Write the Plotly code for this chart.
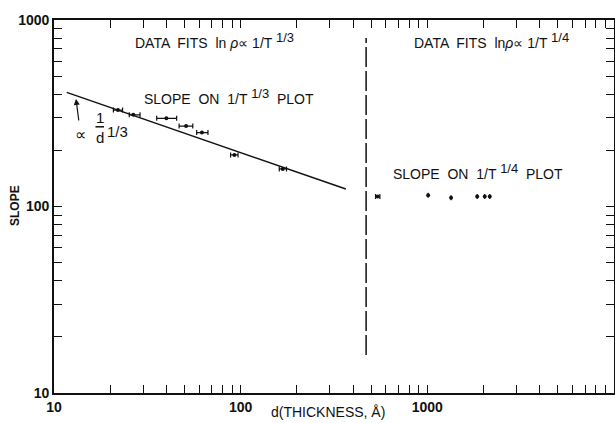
import plotly.graph_objects as go

# ---- data ----
thin_d = [22, 26.6, 40, 51, 62, 92.5, 168]
thin_d_lo = [20.8, 25.3, 35.5, 46.8, 58.1, 88.3, 161]
thin_d_hi = [23.3, 28.9, 45.4, 55.4, 66.8, 96.8, 176]
thin_slope = [329, 310, 297, 270, 249, 189, 159]

thick_d = [542, 1010, 1340, 1850, 2030, 2160]
thick_d_lo = [528, 1010, 1340, 1850, 2030, 2160]
thick_d_hi = [557, 1010, 1340, 1850, 2030, 2160]
thick_slope = [113, 115, 111.5, 113, 113, 113]

fit_d = [11.7, 366]
fit_slope = [409, 124]

boundary_d = [470, 470]
boundary_slope = [16, 800]

x_tickvals = [10, 100, 1000]
x_ticktext = ["10", "100", "1000"]
y_tickvals = [10, 100, 1000]
y_ticktext = ["10", "100", "1000"]

FONT = "Liberation Sans, Arial, sans-serif"
BLACK = "#111111"

fig = go.Figure()

fig.add_trace(go.Scatter(x=fit_d, y=fit_slope, mode="lines",
                         line=dict(color=BLACK, width=1.5), showlegend=False))

fig.add_trace(go.Scatter(x=boundary_d, y=boundary_slope, mode="lines",
                         line=dict(color=BLACK, width=1.5, dash="20px,4px"),
                         showlegend=False))

fig.add_trace(go.Scatter(
    x=thin_d, y=thin_slope, mode="markers",
    marker=dict(color=BLACK, size=4),
    error_x=dict(type="data", symmetric=False,
                 array=[h - c for h, c in zip(thin_d_hi, thin_d)],
                 arrayminus=[c - l for l, c in zip(thin_d_lo, thin_d)],
                 color=BLACK, thickness=1.2, width=2.5),
    showlegend=False))

fig.add_trace(go.Scatter(
    x=thick_d, y=thick_slope, mode="markers",
    marker=dict(color=BLACK, size=4),
    error_x=dict(type="data", symmetric=False,
                 array=[h - c for h, c in zip(thick_d_hi, thick_d)],
                 arrayminus=[c - l for l, c in zip(thick_d_lo, thick_d)],
                 color=BLACK, thickness=1.2, width=2.5),
    showlegend=False))

L, T, R, B = 54, 20, 1, 30
W, H = 615, 423
pw, ph = W - L - R, H - T - B


def px(x):
    return (x - L) / pw


def py(y):
    return (H - B - y) / ph


def note(text, x, y, size=14, **kw):
    fig.add_annotation(text=text, x=px(x), y=py(y), xref="paper", yref="paper",
                       showarrow=False, xanchor="center", yanchor="middle",
                       font=dict(family=FONT, size=size, color=BLACK), **kw)


def sup(s):
    return "<sup><span style='font-size:13px'>" + s + "</span></sup>"


note("DATA  FITS  ln <i>ρ</i>∝ 1/T " + sup("1/3"), 214, 40)
note("SLOPE  ON  1/T " + sup("1/3") + "  PLOT", 229, 96)
note("DATA  FITS  ln<i>ρ</i>∝ 1/T " + sup("1/4"), 491, 40)
note("SLOPE  ON  1/T " + sup("1/4") + "  PLOT", 478, 171)

# proportional-to label with fraction
note("∝", 80.5, 134, size=16)
note("1", 99.5, 117.5, size=15)
note("d", 100, 137, size=15)
note("1/3", 117, 131, size=15)
fig.add_shape(type="line", xref="paper", yref="paper",
              x0=px(95.5), x1=px(104), y0=py(126.8), y1=py(126.8),
              line=dict(color=BLACK, width=1.5))
fig.add_annotation(x=px(76), y=py(99), xref="paper", yref="paper",
                   ax=3, ay=23, text="", showarrow=True, arrowhead=2,
                   arrowsize=1, arrowwidth=1.2, arrowcolor=BLACK)

# axis titles
note("<b>SLOPE</b>", 15, 206, size=12, textangle=-90)
note("d(THICKNESS, Å)", 328, 412, size=14)

axis_common = dict(
    type="log", showgrid=False, zeroline=False, automargin=False,
    showline=True, linecolor=BLACK, linewidth=1.6, mirror="ticks",
    ticks="inside", ticklen=8, tickwidth=1.4, tickcolor=BLACK,
    tickfont=dict(family=FONT, size=14, color=BLACK, weight="bold"),
    minor=dict(ticks="inside", ticklen=8, tickwidth=1.4, tickcolor=BLACK,
               dtick="D1", showgrid=False),
)

fig.update_xaxes(range=[1, 4], tickvals=x_tickvals, ticktext=x_ticktext,
                 **axis_common)
fig.update_yaxes(range=[1, 3], tickvals=y_tickvals, ticktext=y_ticktext,
                 **axis_common)

fig.update_layout(
    width=W, height=H,
    margin=dict(l=L, r=R, t=T, b=B),
    paper_bgcolor="white", plot_bgcolor="white",
    showlegend=False,
)

fig.write_html(
    "out.html",
    config={"displayModeBar": False},
    post_script="document.body.style.margin='0';"
                "document.body.style.overflow='hidden';",
)
